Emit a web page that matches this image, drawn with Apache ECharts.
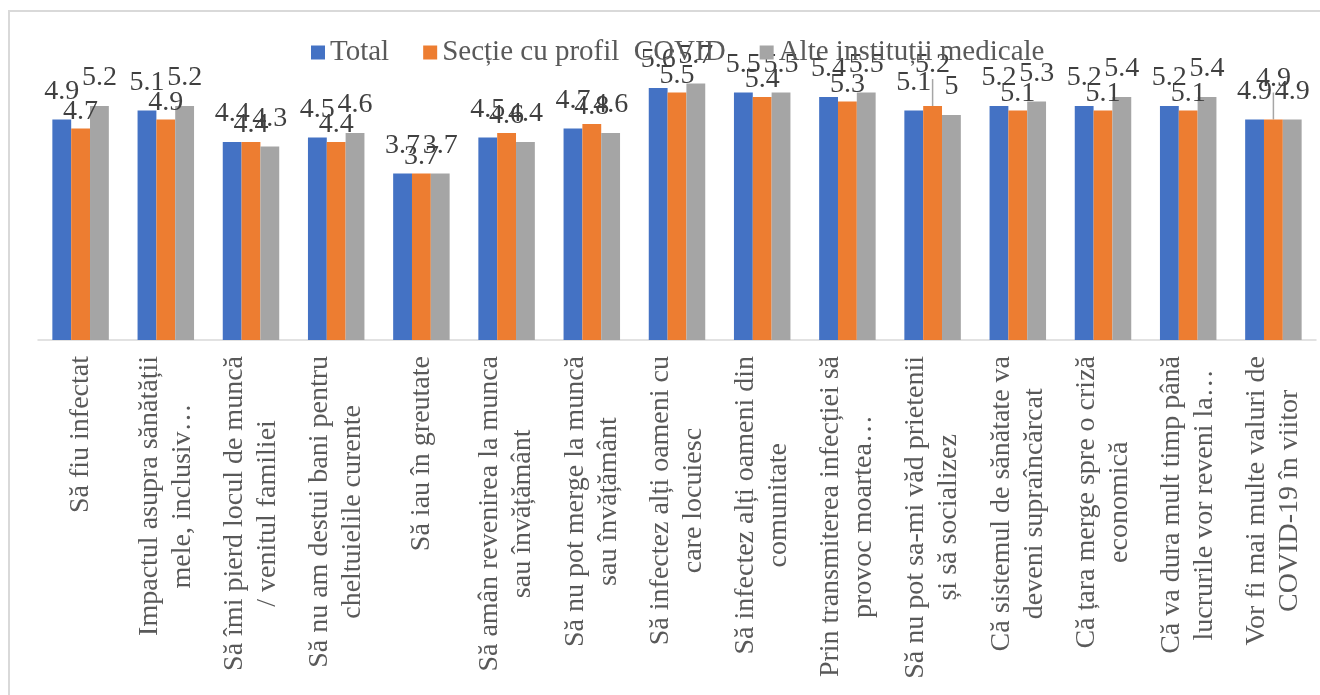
<!DOCTYPE html>
<html>
<head>
<meta charset="utf-8">
<script src="https://cdn.jsdelivr.net/npm/echarts@6/dist/echarts.min.js"></script>
<style>html,body{margin:0;padding:0;background:#fff;}#c{width:1320px;height:695px;}</style>
</head>
<body>
<div id="c"></div>
<script>
const categories = [
  "Să fiu infectat",
  "Impactul asupra sănătății\nmele, inclusiv…",
  "Să îmi pierd locul de muncă\n/ venitul familiei",
  "Să nu am destui bani pentru\ncheltuielile curente",
  "Să iau în greutate",
  "Să amân revenirea la munca\nsau învățământ",
  "Să nu pot merge la muncă\nsau învățământ",
  "Să infectez alți oameni cu\ncare locuiesc",
  "Să infectez alți oameni din\ncomunitate",
  "Prin transmiterea infecției să\nprovoc moartea…",
  "Să nu pot sa-mi văd prietenii\nși să socializez",
  "Că sistemul de sănătate va\ndeveni supraîncărcat",
  "Că țara merge spre o criză\neconomică",
  "Că va dura mult timp până\nlucrurile vor reveni la…",
  "Vor fi mai multe valuri de\nCOVID-19 în viitor"
];
const seriesNames = ["Total", "Secție cu profil  COVID", "Alte instituții medicale"];
const totalValues = [4.9, 5.1, 4.4, 4.5, 3.7, 4.5, 4.7, 5.6, 5.5, 5.4, 5.1, 5.2, 5.2, 5.2, 4.9];
const covidValues = [4.7, 4.9, 4.4, 4.4, 3.7, 4.6, 4.8, 5.5, 5.4, 5.3, 5.2, 5.1, 5.1, 5.1, 4.9];
const alteValues  = [5.2, 5.2, 4.3, 4.6, 3.7, 4.4, 4.6, 5.7, 5.5, 5.5, 5.0, 5.3, 5.4, 5.4, 4.9];
const leaderLineIdx = [10, 14];

const FONT = '"Liberation Serif", "Times New Roman", serif';
const colors = ['#4472C4', '#ED7D31', '#A5A5A5'];

function mkSeries(name, data, color, dist, extra) {
  return Object.assign({
    name: name,
    type: 'bar',
    data: data,
    barGap: '0%',
    barCategoryGap: '33.7%',
    itemStyle: { color: color },
    label: {
      show: true,
      position: 'top',
      distance: dist,
      fontFamily: FONT,
      fontSize: 28,
      color: '#404040'
    }
  }, extra || {});
}

const covidData = covidValues.map(function (v, i) {
  if (leaderLineIdx.indexOf(i) >= 0) {
    return { value: v, labelLine: { show: true, lineStyle: { color: '#a6a6a6', width: 1.5 } } };
  }
  return v;
});

const chart = echarts.init(document.getElementById('c'), null, { renderer: 'canvas' });
chart.setOption({
  animation: false,
  backgroundColor: '#fff',
  color: colors,
  graphic: [{
    type: 'rect',
    shape: { x: 9, y: 11, width: 1400, height: 800 },
    style: { fill: 'none', stroke: '#d9d9d9', lineWidth: 2 },
    silent: true,
    z: -10
  }],
  legend: {
    top: 33,
    left: 306,
    itemWidth: 14,
    itemHeight: 14,
    itemGap: 34,
    icon: 'rect',
    textStyle: { fontFamily: FONT, fontSize: 29, color: '#595959' }
  },
  grid: { left: 38, right: 4, top: 70, bottom: 355, containLabel: false },
  xAxis: {
    type: 'category',
    data: categories,
    axisLine: { lineStyle: { color: '#d9d9d9', width: 1.5 } },
    axisTick: { show: false },
    axisLabel: {
      interval: 0,
      rotate: 90,
      margin: 16,
      color: '#595959',
      fontFamily: FONT,
      fontSize: 28,
      formatter: function (v) {
        return v.split('\n').map(function (l) { return '{c|' + l + '}'; }).join('\n');
      },
      rich: {
        c: { align: 'center', fontFamily: FONT, fontSize: 28, color: '#595959', lineHeight: 33 }
      }
    }
  },
  yAxis: {
    type: 'value',
    min: 0,
    max: 6,
    show: false,
    splitLine: { show: false }
  },
  series: [
    mkSeries(seriesNames[0], totalValues, colors[0], 14),
    mkSeries(seriesNames[1], covidData, colors[1], 3, {
      labelLayout: function (p) {
        if (leaderLineIdx.indexOf(p.dataIndex) >= 0) return { dy: -24 };
        return {};
      }
    }),
    mkSeries(seriesNames[2], alteValues, colors[2], 14)
  ]
});
</script>
</body>
</html>
